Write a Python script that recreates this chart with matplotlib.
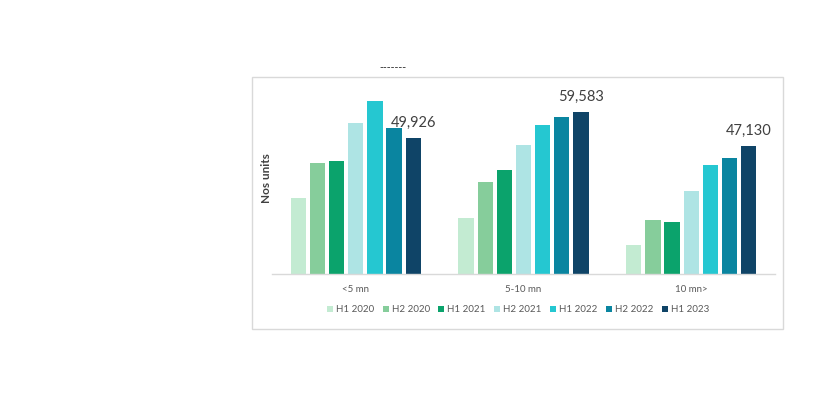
import matplotlib
matplotlib.use("Agg")
import matplotlib.pyplot as plt
import numpy as np
from matplotlib.patches import Rectangle

categories = ["<5 mn", "5-10 mn", "10 mn>"]
series = ["H1 2020", "H2 2020", "H1 2021", "H2 2021", "H1 2022", "H2 2022", "H1 2023"]
values = {
    "H1 2020": [27900, 20700, 10800],
    "H2 2020": [40700, 33800, 19900],
    "H1 2021": [41500, 38400, 19100],
    "H2 2021": [55600, 47400, 30600],
    "H1 2022": [63800, 54800, 40100],
    "H2 2022": [53600, 57700, 42700],
    "H1 2023": [49926, 59583, 47130],
}
colors = ["#C3EBD2", "#86CD9B", "#0BA36C", "#AEE4E4", "#25C7D1", "#0A85A0", "#0F4467"]
label_series = "H1 2023"

plt.rcParams['font.family'] = ['Lato', 'DejaVu Sans']

W, H = 822, 412
fig = plt.figure(figsize=(W / 100, H / 100), dpi=100)
fig.patch.set_facecolor("white")

# outer frame
fig.patches.append(Rectangle((252 / W, 1 - 329 / H), (783 - 252) / W, (329 - 77) / H,
                             transform=fig.transFigure, fill=False,
                             edgecolor="#D9D9D9", linewidth=1.0))
fig.text(393 / W, 1 - 68 / H, "-------", ha="center", va="center", fontsize=7.5,
         fontweight="bold", color="#404040")

ax_left, ax_right, ax_base, ax_top = 272, 775, 274, 85
ax = fig.add_axes([ax_left / W, 1 - ax_base / H, (ax_right - ax_left) / W, (ax_base - ax_top) / H])

n = len(series)
slot = 0.8 / n
bw = slot * 0.80
x = np.arange(len(categories))
for i, s in enumerate(series):
    pos = x - 0.4 + slot * (i + 0.5)
    bars = ax.bar(pos, values[s], width=bw, color=colors[i], label=s, zorder=2)
    if s == label_series:
        for b, v in zip(bars, values[s]):
            ax.annotate(f"{v:,}", (b.get_x() + b.get_width() / 2, v), xytext=(0, 6),
                        textcoords="offset points", ha="center", va="bottom",
                        fontsize=10.5, color="#404040")

ax.set_xlim(-0.5, 2.5)
ax.set_ylim(0, (ax_base - ax_top) * 367.8)
for sp in ["top", "right", "left"]:
    ax.spines[sp].set_visible(False)
ax.spines["bottom"].set_color("#D9D9D9")
ax.spines["bottom"].set_linewidth(1.0)
ax.set_yticks([])
ax.set_xticks(x)
ax.set_xticklabels(categories, fontsize=7, color="#595959")
ax.tick_params(axis="x", length=0, pad=8)
fig.text(266 / W, 1 - 178 / H, "Nos units", rotation=90, ha="center", va="center",
         fontsize=8.5, fontweight="bold", color="#404040")

leg = fig.legend(*ax.get_legend_handles_labels(), loc="center", bbox_to_anchor=(518 / W, 1 - 310 / H),
                 ncol=7, frameon=False, fontsize=7, handlelength=0.6, handleheight=0.6,
                 handletextpad=0.3, columnspacing=0.9, labelcolor="#595959")

fig.savefig("out.png", dpi=100, facecolor="white")
